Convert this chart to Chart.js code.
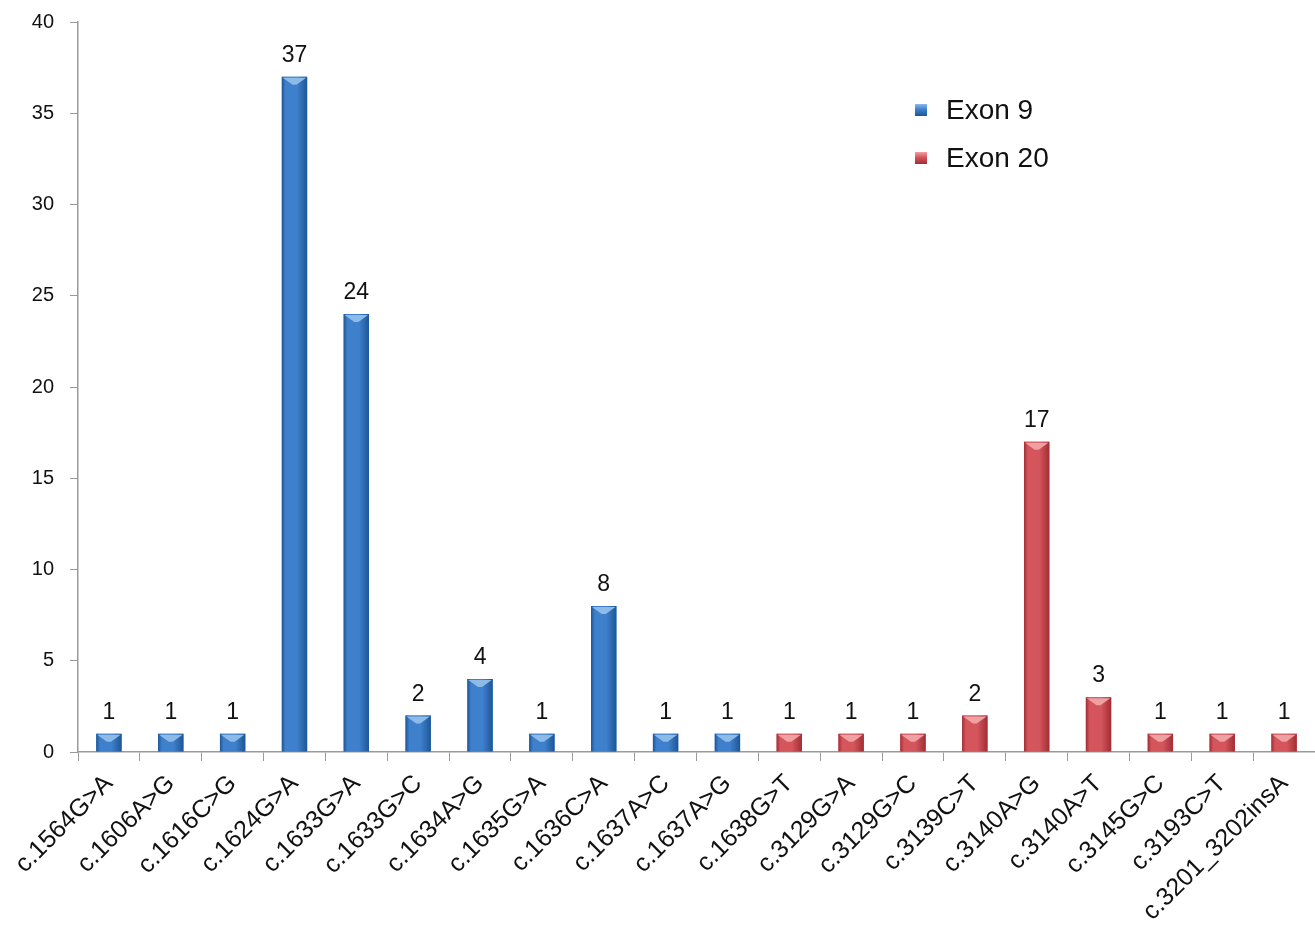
<!DOCTYPE html>
<html>
<head>
<meta charset="utf-8">
<script src="https://cdn.jsdelivr.net/npm/chart.js@4"></script>
<style>
    body { margin: 0; background: #fff; }
    #wrap { position: relative; width: 1315px; height: 929px; }
    #legenda { position: absolute; left: 915px; top: 86px; font-family: "Liberation Sans", Arial, sans-serif; font-size: 28px; color: #111; }
    #legenda .item { display: flex; align-items: center; height: 48px; }
    #legenda .box { width: 12px; height: 12px; margin-right: 19px; }
</style>
</head>
<body>
<div id="wrap">
    <canvas id="grafico" width="1315" height="929"></canvas>
    <div id="legenda"></div>
</div>
<script>
// dados do gráfico
const mutacoes = ['c.1564G>A', 'c.1606A>G', 'c.1616C>G', 'c.1624G>A', 'c.1633G>A', 'c.1633G>C', 'c.1634A>G',
    'c.1635G>A', 'c.1636C>A', 'c.1637A>C', 'c.1637A>G', 'c.1638G>T', 'c.3129G>A', 'c.3129G>C', 'c.3139C>T',
    'c.3140A>G', 'c.3140A>T', 'c.3145G>C', 'c.3193C>T', 'c.3201_3202insA'];
const exon9 = [1, 1, 1, 37, 24, 2, 4, 1, 8, 1, 1, null, null, null, null, null, null, null, null, null];
const exon20 = [null, null, null, null, null, null, null, null, null, null, null, 1, 1, 1, 2, 17, 3, 1, 1, 1];
const yTicks = [0, 5, 10, 15, 20, 25, 30, 35, 40];

const FONTE = '"Liberation Sans", Arial, sans-serif';

// cores: [borda escura, meio claro, topo]
const cores = {
    'Exon 9': ['#1d5697', '#3f80cc', '#8dbbe8'],
    'Exon 20': ['#a22d35', '#d4565c', '#eea0a3']
};

// Plugin: sombreado das barras, "tampa" chanfrada e rótulos de valor
const pluginBarras = {
    id: 'barras3d',
    afterDatasetsDraw(chart) {
        const ctx = chart.ctx;
        chart.data.datasets.forEach((ds, i) => {
            const meta = chart.getDatasetMeta(i);
            const c = cores[ds.label];
            meta.data.forEach((bar, j) => {
                const v = ds.data[j];
                if (v === null || v === undefined) return;
                const w = bar.width;
                const l = bar.x - w / 2;
                const r = bar.x + w / 2;
                const top = bar.y;
                const base = bar.base;

                ctx.save();
                const grad = ctx.createLinearGradient(l, 0, r, 0);
                grad.addColorStop(0, c[0]);
                grad.addColorStop(0.15, c[1]);
                grad.addColorStop(0.6, c[1]);
                grad.addColorStop(1, c[0]);
                ctx.fillStyle = grad;
                ctx.fillRect(l, top, w, base - top);

                // tampa chanfrada
                ctx.fillStyle = c[2];
                ctx.beginPath();
                ctx.moveTo(l + 1, top + 1);
                ctx.lineTo(r - 1, top + 1);
                ctx.lineTo(bar.x + 2, top + 8);
                ctx.lineTo(bar.x - 2, top + 8);
                ctx.closePath();
                ctx.fill();

                // rótulo
                ctx.fillStyle = '#111';
                ctx.font = '23px ' + FONTE;
                ctx.textAlign = 'center';
                ctx.textBaseline = 'alphabetic';
                ctx.fillText(String(v), bar.x, top - 15);
                ctx.restore();
            });
        });
    }
};

const datasets = [
    { label: 'Exon 9', data: exon9, backgroundColor: cores['Exon 9'][1] },
    { label: 'Exon 20', data: exon20, backgroundColor: cores['Exon 20'][1] }
];

const chart = new Chart(document.getElementById('grafico'), {
    type: 'bar',
    data: {
        labels: mutacoes,
        datasets: datasets.map(d => ({
            ...d,
            grouped: false,
            barPercentage: 0.41,
            categoryPercentage: 1
        }))
    },
    options: {
        responsive: false,
        animation: false,
        layout: { padding: { top: 22, right: 0, left: 0, bottom: 0 } },
        plugins: {
            legend: { display: false },
            tooltip: { enabled: false }
        },
        scales: {
            x: {
                grid: { display: true, drawOnChartArea: false, offset: true, tickLength: 9, color: '#9a9a9a' },
                border: { color: '#9a9a9a', width: 1.5 },
                ticks: {
                    autoSkip: false,
                    maxRotation: 45,
                    minRotation: 45,
                    color: '#111',
                    font: { family: FONTE, size: 25 },
                    padding: 8
                },
                afterFit(s) {
                    s.height = 929 - 752;
                    s.paddingLeft = 0;
                    s.paddingRight = 0;
                }
            },
            y: {
                min: 0,
                max: 40,
                afterBuildTicks(s) {
                    s.ticks = yTicks.map(v => ({ value: v }));
                },
                grid: { display: true, drawOnChartArea: false, tickLength: 8, color: '#9a9a9a' },
                border: { color: '#9a9a9a', width: 1.5 },
                ticks: {
                    color: '#111',
                    font: { family: FONTE, size: 20 },
                    padding: 16
                },
                afterFit(s) {
                    s.width = 78;
                    s.paddingTop = 0;
                    s.paddingBottom = 0;
                }
            }
        }
    },
    plugins: [pluginBarras]
});

// legenda em HTML
const legenda = document.getElementById('legenda');
datasets.forEach(d => {
    const c = cores[d.label];
    const item = document.createElement('div');
    item.className = 'item';
    item.innerHTML = `<span class="box" style="background: linear-gradient(${c[2]} 0%, ${c[1]} 45%, ${c[0]} 100%)"></span><span>${d.label}</span>`;
    legenda.appendChild(item);
});
</script>
</body>
</html>
